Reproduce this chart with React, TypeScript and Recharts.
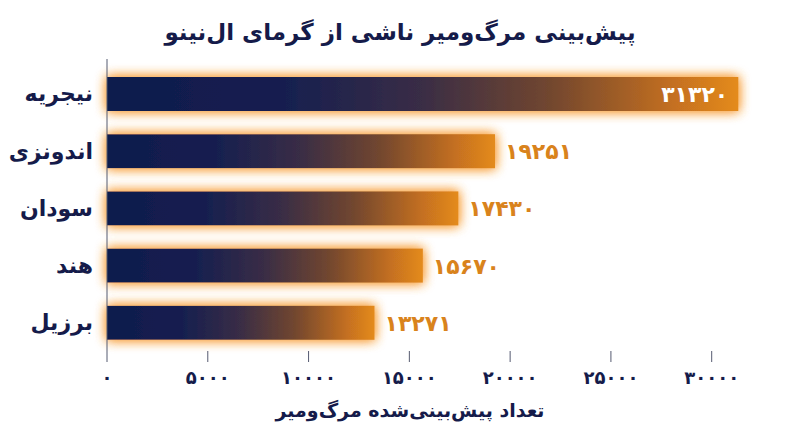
import { BarChart, Bar, XAxis, YAxis, LabelList } from 'recharts'

const countries = ['نیجریه', 'اندونزی', 'سودان', 'هند', 'برزیل']
const deaths = [31320, 19251, 17430, 15670, 13271]
const xTicks = [0, 5000, 10000, 15000, 20000, 25000, 30000]

const data = countries.map((country, i) => ({ country, deaths: deaths[i] }))

const colors = {
  navy: '#151b4a',
  orange: '#d9831c',
  glow: '#f8a444',
}

const font = '"DejaVu Sans", sans-serif'

const faDigits = (n: number) =>
  String(n).replace(/\d/g, (d) => '۰۱۲۳۴۵۶۷۸۹'[Number(d)])

function GlowBar(props: any) {
  const { x, y, width, height } = props
  if (!width || width <= 0) return null
  return (
    <rect
      x={x}
      y={y}
      width={width}
      height={height}
      fill="url(#barGradient)"
      filter="url(#barGlow)"
    />
  )
}

function ValueLabel(props: any) {
  const { x, y, width, height, value, index } = props
  const inside = index === 0
  const cy = y + height / 2
  return (
    <text
      x={inside ? x + width - 10 : x + width + 10}
      y={cy}
      dy={8}
      textAnchor={inside ? 'end' : 'start'}
      fill={inside ? '#ffffff' : colors.orange}
      fontFamily={font}
      fontWeight={700}
      fontSize={22}
    >
      {faDigits(value)}
    </text>
  )
}

export default function App() {
  return (
    <div style={{ position: 'absolute', left: 0, top: 0, width: 800, height: 447, background: '#fff' }}>
      <div
        dir="rtl"
        style={{
          position: 'absolute',
          top: 19,
          left: 0,
          width: 800,
          textAlign: 'center',
          fontFamily: font,
          fontWeight: 700,
          fontSize: 23,
          color: colors.navy,
        }}
      >
        پیش‌بینی مرگ‌ومیر ناشی از گرمای ال‌نینو
      </div>
      <BarChart
        width={800}
        height={447}
        data={data}
        layout="vertical"
        margin={{ top: 59, right: 48, bottom: 56, left: 7 }}
      >
        <defs>
          <linearGradient id="barGradient" x1="0" y1="0" x2="1" y2="0">
            <stop offset="0" stopColor="#0e1a4d" />
            <stop offset="0.28" stopColor="#161f50" />
            <stop offset="0.5" stopColor="#3a2d45" />
            <stop offset="0.7" stopColor="#71462f" />
            <stop offset="0.9" stopColor="#c57020" />
            <stop offset="1" stopColor="#e48b1e" />
          </linearGradient>
          <filter id="barGlow" x="-10%" y="-70%" width="120%" height="240%">
            <feFlood floodColor={colors.glow} floodOpacity="1" />
            <feComposite in2="SourceAlpha" operator="in" />
            <feGaussianBlur stdDeviation="6" result="glow" />
            <feMerge>
              <feMergeNode in="glow" />
              <feMergeNode in="glow" />
              <feMergeNode in="SourceGraphic" />
            </feMerge>
          </filter>
        </defs>
        <XAxis
          type="number"
          domain={[0, 32000]}
          ticks={xTicks}
          height={40}
          axisLine={false}
          tickSize={11}
          tickMargin={9}
          tickLine={{ stroke: '#555a70', strokeWidth: 1 }}
          tickFormatter={faDigits}
          tick={{ fill: colors.navy, fontSize: 18, fontWeight: 700, fontFamily: font }}
        />
        <YAxis
          type="category"
          dataKey="country"
          width={100}
          padding={{ top: 6, bottom: 0 }}
          axisLine={{ stroke: '#555a70', strokeWidth: 1 }}
          tickLine={false}
          tickMargin={8}
          tick={{ fill: colors.navy, fontSize: 22, fontWeight: 700, fontFamily: font }}
        />
        <Bar dataKey="deaths" barSize={34} shape={GlowBar} isAnimationActive={false}>
          <LabelList dataKey="deaths" content={ValueLabel} />
        </Bar>
      </BarChart>
      <div
        dir="rtl"
        style={{
          position: 'absolute',
          top: 399,
          left: 10,
          width: 800,
          textAlign: 'center',
          fontFamily: font,
          fontWeight: 700,
          fontSize: 19,
          color: colors.navy,
        }}
      >
        تعداد پیش‌بینی‌شده مرگ‌ومیر
      </div>
    </div>
  )
}
